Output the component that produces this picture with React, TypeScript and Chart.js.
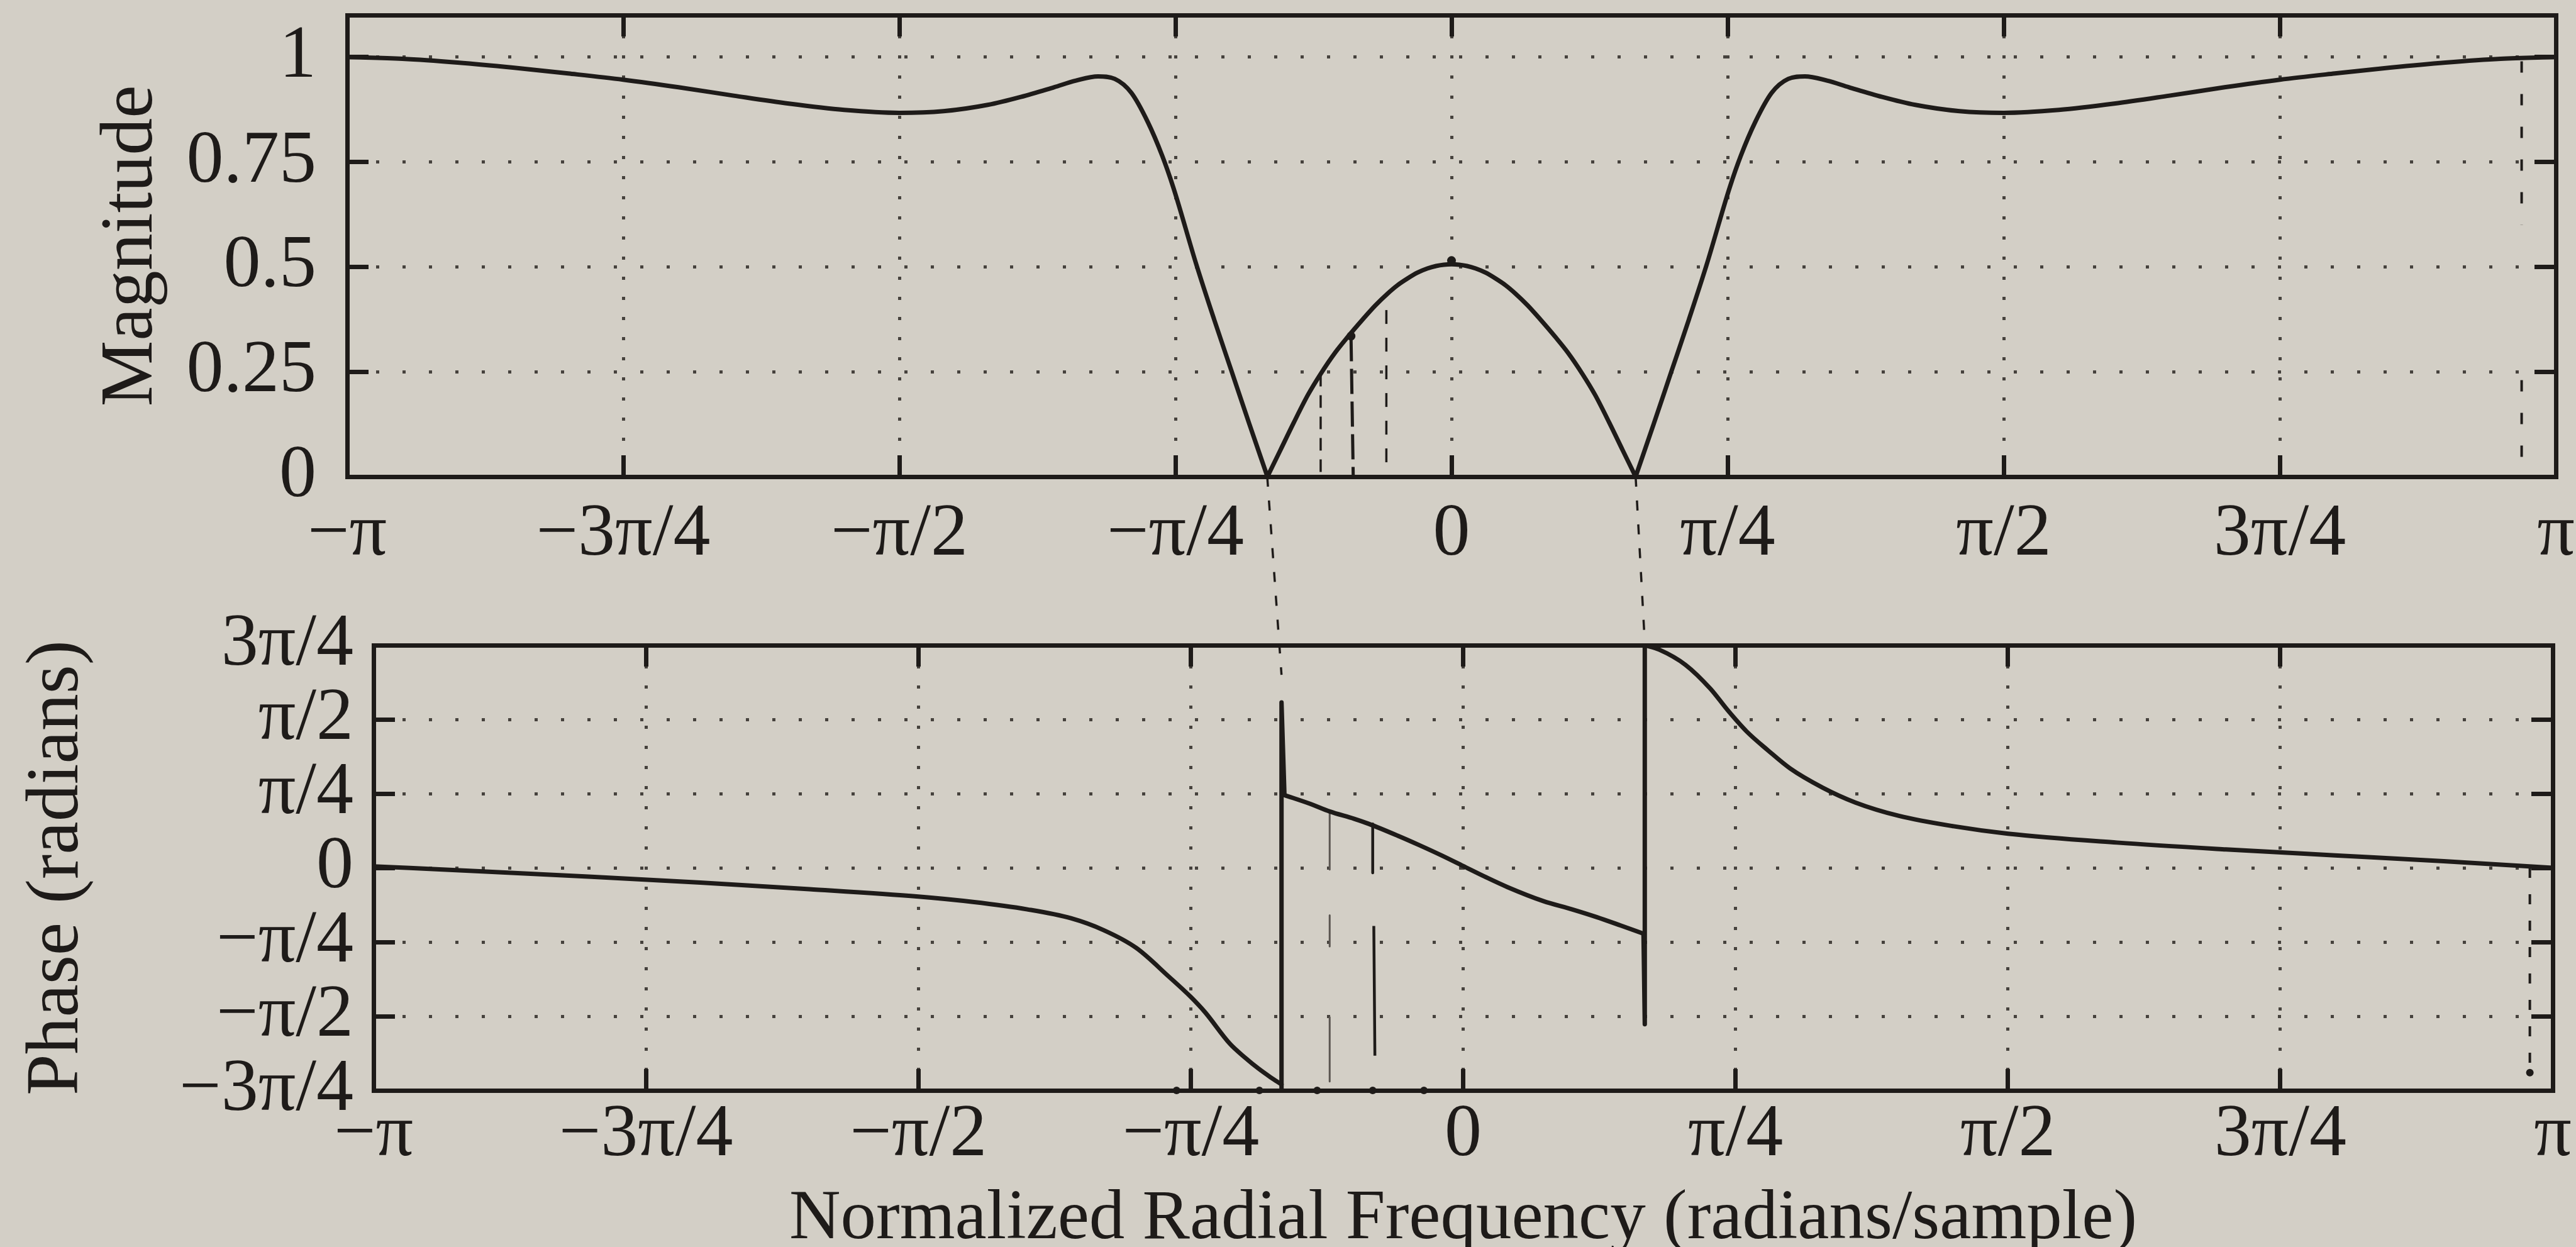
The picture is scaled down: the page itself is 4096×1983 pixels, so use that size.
import React, { useEffect, useRef } from 'react';
import { Chart, registerables } from 'chart.js';

Chart.register(...registerables);

// ---------------- ticks, labels, titles ----------------
const xTickValues = [-1, -0.75, -0.5, -0.25, 0, 0.25, 0.5, 0.75, 1];
const xTickLabels = ['−π', '−3π/4', '−π/2', '−π/4', '0', 'π/4', 'π/2', '3π/4', 'π'];
const magTickValues = [0, 0.25, 0.5, 0.75, 1];
const magTickLabels = ['0', '0.25', '0.5', '0.75', '1'];
const phaseTickValues = [-0.75, -0.5, -0.25, 0, 0.25, 0.5, 0.75];
const phaseTickLabels = ['−3π/4', '−π/2', '−π/4', '0', 'π/4', 'π/2', '3π/4'];

const xTitle = 'Normalized Radial Frequency (radians/sample)';
const magTitle = 'Magnitude';
const phaseTitle = 'Phase (radians)';

// ---------------- magnitude (ω in units of π) ----------------
const magLeftW = [-1, -0.95, -0.9, -0.85, -0.8, -0.75, -0.7, -0.65, -0.6, -0.55, -0.5, -0.46, -0.42, -0.39, -0.36, -0.34, -0.32, -0.305, -0.29, -0.275, -0.262, -0.252, -0.231, -0.215, -0.199, -0.183, -0.1667];
const magLeftV = [1.0, 0.996, 0.987, 0.975, 0.961, 0.946, 0.928, 0.908, 0.889, 0.874, 0.867, 0.871, 0.886, 0.905, 0.928, 0.944, 0.954, 0.948, 0.915, 0.845, 0.765, 0.69, 0.505, 0.375, 0.25, 0.125, 0.0];

const magMidW = [-0.1667, -0.155, -0.143, -0.13, -0.1185, -0.105, -0.094, -0.08, -0.069, -0.058, -0.049, -0.04, -0.031, -0.022, -0.014, -0.007, 0, 0.007, 0.014, 0.022, 0.031, 0.04, 0.049, 0.058, 0.069, 0.08, 0.094, 0.105, 0.1185, 0.13, 0.143, 0.155, 0.1667];
const magMidV = [0.0, 0.063, 0.128, 0.195, 0.245, 0.297, 0.333, 0.376, 0.408, 0.436, 0.456, 0.472, 0.486, 0.496, 0.502, 0.505, 0.506, 0.505, 0.502, 0.496, 0.486, 0.472, 0.456, 0.436, 0.408, 0.376, 0.333, 0.297, 0.245, 0.195, 0.128, 0.063, 0.0];

const magRightW = [0.1667, 0.183, 0.199, 0.215, 0.231, 0.252, 0.262, 0.275, 0.29, 0.305, 0.32, 0.34, 0.36, 0.39, 0.42, 0.46, 0.5, 0.55, 0.6, 0.65, 0.7, 0.75, 0.8, 0.85, 0.9, 0.95, 1];
const magRightV = [0.0, 0.125, 0.25, 0.375, 0.505, 0.69, 0.765, 0.845, 0.915, 0.948, 0.954, 0.944, 0.928, 0.905, 0.886, 0.871, 0.867, 0.874, 0.889, 0.908, 0.928, 0.946, 0.961, 0.975, 0.987, 0.996, 1.0];

// ---------------- phase (ω and phase both in units of π) ----------------
const phaseLeftW = [-1, -0.9, -0.8, -0.7, -0.6, -0.5, -0.45, -0.4, -0.36, -0.33, -0.3, -0.27, -0.25, -0.237, -0.214, -0.2, -0.188, -0.177, -0.1667];
const phaseLeftV = [0.005, -0.012, -0.03, -0.05, -0.072, -0.097, -0.115, -0.14, -0.17, -0.21, -0.27, -0.367, -0.435, -0.486, -0.593, -0.64, -0.676, -0.705, -0.73];

const phaseJumpLeftW = [-0.1667, -0.1667, -0.1667, -0.164];
const phaseJumpLeftV = [-0.73, -0.75, 0.557, 0.245];

const phaseMidW = [-0.164, -0.14, -0.1225, -0.1, -0.0866, -0.06, -0.0407, -0.02, 0, 0.02, 0.0407, 0.0735, 0.1, 0.1225, 0.145, 0.1655];
const phaseMidV = [0.245, 0.215, 0.19, 0.165, 0.148, 0.108, 0.077, 0.042, 0.006, -0.03, -0.065, -0.112, -0.14, -0.166, -0.195, -0.222];

const phaseJumpRightW = [0.1655, 0.1667, 0.1667];
const phaseJumpRightV = [-0.222, -0.527, 0.75];

const phaseRightW = [0.1667, 0.18, 0.204, 0.227, 0.243, 0.26, 0.28, 0.3, 0.33, 0.36, 0.4, 0.45, 0.5, 0.6, 0.7, 0.8, 0.9, 1];
const phaseRightV = [0.75, 0.735, 0.684, 0.603, 0.53, 0.46, 0.395, 0.335, 0.27, 0.22, 0.175, 0.14, 0.115, 0.085, 0.062, 0.042, 0.022, 0.0];

// ---------------- pencil / print marks seen on the page ----------------
const markMagPiW = [0.969, 0.969, 0.969, 0.969, 0.969];
const markMagPiV = [0.99, 0.6, null, 0.23, 0.03];
const markMagAW = [-0.1185, -0.1185];
const markMagAV = [0.245, 0.0];
const markMagBW = [-0.091, -0.089];
const markMagBV = [0.335, 0.0];
const markMagCW = [-0.059, -0.059];
const markMagCV = [0.397, 0.02];
const blobMagW = [0, -0.091];
const blobMagV = [0.515, 0.335];

const connLeftW = [-0.1798, -0.1667];
const connLeftV = [1.318, 0.65];
const connRightW = [0.1583, 0.1667];
const connRightV = [1.318, 0.76];
const markPhaseAW = [-0.1225, -0.1225, -0.1225, -0.1225, -0.1225, -0.1225, -0.1225, -0.1225];
const markPhaseAV = [0.19, -0.006, null, -0.16, -0.265, null, -0.503, -0.72];
const markPhaseBW = [-0.083, -0.083, -0.083, -0.082, -0.081];
const markPhaseBV = [0.148, -0.017, null, -0.196, -0.633];
const markPhasePiW = [0.979, 0.979];
const markPhasePiV = [0.0, -0.69];
const blobPhaseW = [-0.263, -0.187, -0.134, -0.083, -0.036, 0.979];
const blobPhaseV = [-0.75, -0.75, -0.75, -0.75, -0.75, -0.69];

// ---------------- style / layout ----------------
const WIN_W = 4096;
const WIN_H = 1983;
const PAPER = '#d3cfc6';
const INK = '#1e1b19';
const GRID = '#46423d';
const FONT = '"Liberation Serif", "Times New Roman", serif';
const FS = 118;
const TITLE_FS = 113;
const TICK = 34;
const LINE_W = 7;

const TOP = { left: 552, right: 4064, top: 24, bottom: 758, yAxisW: 413, xAxisH: 200 };
const BOT = { left: 594, right: 4059, top: 1026, bottom: 1734, yAxisW: 573 };

const pts = (ws: number[], vs: (number | null)[]) => ws.map((w, i) => ({ x: w, y: vs[i] }));

const curve = (data: any[]) => ({
  data,
  borderColor: INK,
  borderWidth: LINE_W,
  pointRadius: 0,
  pointHoverRadius: 0,
  fill: false,
  cubicInterpolationMode: 'monotone',
  borderJoinStyle: 'round',
  borderCapStyle: 'round',
});
const straight = (data: any[], width = LINE_W, extra: any = {}) => ({
  data,
  borderColor: INK,
  borderWidth: width,
  pointRadius: 0,
  pointHoverRadius: 0,
  fill: false,
  tension: 0,
  borderJoinStyle: 'round',
  borderCapStyle: 'round',
  ...extra,
});
const blobs = (data: any[], r: number) => ({
  data,
  showLine: false,
  pointRadius: r,
  pointHoverRadius: r,
  pointBackgroundColor: INK,
  pointBorderWidth: 0,
  borderColor: INK,
  clip: false,
});

const tickFont = { family: FONT, size: FS, lineHeight: 1.2 };
const titleFont = { family: FONT, size: TITLE_FS, lineHeight: 1.2 };

const setTicks = (values: number[]) => (s: any) => {
  s.ticks = values.map((v) => ({ value: v }));
};

const fixSize = (axis: 'x' | 'y', size: number) => (s: any) => {
  if (axis === 'x') s.height = size;
  else s.width = size;
  s.paddingLeft = 0;
  s.paddingRight = 0;
  s.paddingTop = 0;
  s.paddingBottom = 0;
};

function mainAxis(
  axis: 'x' | 'y',
  min: number,
  max: number,
  values: number[],
  labels: string[],
  size: number,
  pad: number,
  dash: number[],
  title: any
) {
  return {
    type: 'linear',
    position: axis === 'x' ? 'bottom' : 'left',
    min,
    max,
    afterBuildTicks: setTicks(values),
    afterFit: fixSize(axis, size),
    ticks: {
      display: true,
      autoSkip: false,
      maxRotation: 0,
      minRotation: 0,
      padding: pad,
      font: tickFont,
      color: INK,
      callback: (_v: any, i: number) => labels[i],
    },
    grid: {
      display: true,
      drawOnChartArea: true,
      drawTicks: true,
      color: GRID,
      lineWidth: 5,
      tickLength: -TICK,
      tickWidth: LINE_W,
      tickColor: INK,
      tickBorderDash: [],
    },
    border: { display: true, color: INK, width: LINE_W, dash },
    title,
  };
}

function sideAxis(axis: 'x' | 'y', min: number, max: number, values: number[]) {
  return {
    type: 'linear',
    position: axis === 'x' ? 'top' : 'right',
    min,
    max,
    afterBuildTicks: setTicks(values),
    afterFit: fixSize(axis, 0),
    ticks: { display: false },
    grid: {
      display: true,
      drawOnChartArea: false,
      drawTicks: true,
      tickLength: -TICK,
      tickWidth: LINE_W,
      tickColor: INK,
    },
    border: { display: true, color: INK, width: LINE_W },
  };
}

const commonOptions = {
  responsive: false,
  maintainAspectRatio: false,
  animation: false,
  devicePixelRatio: 1,
  events: [],
  plugins: { legend: { display: false }, tooltip: { enabled: false }, title: { display: false } },
};

function topConfig(): any {
  return {
    type: 'line',
    data: {
      datasets: [
        curve(pts(magLeftW, magLeftV)),
        curve(pts(magMidW, magMidV)),
        curve(pts(magRightW, magRightV)),
        straight(pts(markMagPiW, markMagPiV), 4, { borderDash: [18, 34], borderCapStyle: 'butt' }),
        straight(pts(markMagAW, markMagAV), 3.5, { borderDash: [20, 14], borderCapStyle: 'butt' }),
        straight(pts(markMagBW, markMagBV), 5, { borderDash: [40, 12], borderCapStyle: 'butt' }),
        straight(pts(markMagCW, markMagCV), 3.5, { borderDash: [22, 22], borderCapStyle: 'butt' }),
        blobs(pts(blobMagW, blobMagV), 7),
      ],
    },
    options: {
      ...commonOptions,
      layout: {
        padding: {
          left: TOP.left - TOP.yAxisW,
          right: WIN_W - TOP.right,
          top: TOP.top,
          bottom: WIN_H - TOP.bottom - TOP.xAxisH,
        },
      },
      scales: {
        x: mainAxis('x', -1, 1, xTickValues, xTickLabels, TOP.xAxisH, 56, [5, 27], { display: false }),
        x2: sideAxis('x', -1, 1, xTickValues),
        y: mainAxis('y', 0, 1.1, magTickValues, magTickLabels, TOP.yAxisW, 83, [5, 37], {
          display: true,
          text: magTitle,
          font: tickFont,
          color: INK,
          padding: 0,
        }),
        y2: sideAxis('y', 0, 1.1, magTickValues),
      },
    },
  };
}

function botConfig(): any {
  const xAxisH = WIN_H - BOT.bottom;
  return {
    type: 'line',
    data: {
      datasets: [
        curve(pts(phaseLeftW, phaseLeftV)),
        straight(pts(phaseJumpLeftW, phaseJumpLeftV)),
        curve(pts(phaseMidW, phaseMidV)),
        straight(pts(phaseJumpRightW, phaseJumpRightV)),
        curve(pts(phaseRightW, phaseRightV)),
        straight(pts(connLeftW, connLeftV), 3.5, { borderDash: [16, 22], borderCapStyle: 'butt', clip: false }),
        straight(pts(connRightW, connRightV), 3.5, { borderDash: [16, 22], borderCapStyle: 'butt', clip: false }),
        straight(pts(markPhaseAW, markPhaseAV), 3, { borderColor: '#5b5651', borderCapStyle: 'butt' }),
        straight(pts(markPhaseBW, markPhaseBV), 4.5, { borderCapStyle: 'butt' }),
        straight(pts(markPhasePiW, markPhasePiV), 4, { borderDash: [16, 26], borderCapStyle: 'butt' }),
        blobs(pts(blobPhaseW, blobPhaseV), 6),
      ],
    },
    options: {
      ...commonOptions,
      layout: {
        padding: {
          left: BOT.left - BOT.yAxisW,
          right: WIN_W - BOT.right,
          top: BOT.top,
          bottom: 0,
        },
      },
      scales: {
        x: mainAxis('x', -1, 1, xTickValues, xTickLabels, xAxisH, 35, [5, 27], {
          display: true,
          text: xTitle,
          font: titleFont,
          color: INK,
          padding: { top: 0, bottom: -24 },
        }),
        x2: sideAxis('x', -1, 1, xTickValues),
        y: mainAxis('y', -0.75, 0.75, phaseTickValues, phaseTickLabels, BOT.yAxisW, 66, [5, 37], {
          display: true,
          text: phaseTitle,
          font: tickFont,
          color: INK,
          padding: 0,
        }),
        y2: sideAxis('y', -0.75, 0.75, phaseTickValues),
      },
    },
  };
}

export default function App() {
  const topRef = useRef<HTMLCanvasElement>(null);
  const botRef = useRef<HTMLCanvasElement>(null);

  useEffect(() => {
    const top = new Chart(topRef.current as HTMLCanvasElement, topConfig());
    const bot = new Chart(botRef.current as HTMLCanvasElement, botConfig());
    let alive = true;
    if ((document as any).fonts && (document as any).fonts.ready) {
      (document as any).fonts.ready.then(() => {
        if (alive) {
          top.update();
          bot.update();
        }
      });
    }
    return () => {
      alive = false;
      top.destroy();
      bot.destroy();
    };
  }, []);

  const canvasStyle: React.CSSProperties = {
    position: 'absolute',
    left: 0,
    top: 0,
    width: WIN_W,
    height: WIN_H,
    display: 'block',
  };

  return (
    <div
      style={{
        position: 'fixed',
        left: 0,
        top: 0,
        width: WIN_W,
        height: WIN_H,
        background: PAPER,
        overflow: 'hidden',
      }}
    >
      <canvas ref={topRef} width={WIN_W} height={WIN_H} style={canvasStyle} />
      <canvas ref={botRef} width={WIN_W} height={WIN_H} style={canvasStyle} />
    </div>
  );
}
